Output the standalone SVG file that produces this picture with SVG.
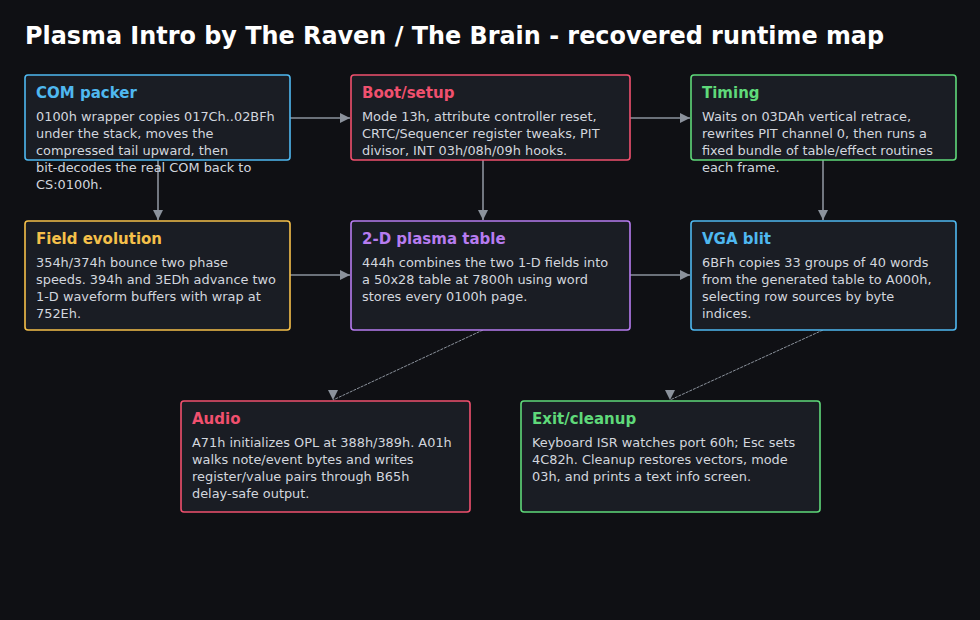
<svg xmlns="http://www.w3.org/2000/svg" width="980" height="620" viewBox="0 0 980 620">
<defs>
<style>
.bg{fill:#0f1014}
.box{fill:#1a1d24;stroke-width:1.6}
.h{font-family:"DejaVu Sans",sans-serif;font-weight:bold;font-size:15px}
.t{font-family:"DejaVu Sans",sans-serif;font-size:12.9px;fill:#d2d6de}
.title{font-family:"DejaVu Sans",sans-serif;font-weight:bold;font-size:23.9px;fill:#ffffff}
.c{stroke:#8b929c;stroke-width:1.6;fill:none}
.d{stroke:#8b929c;stroke-width:1;fill:none;stroke-dasharray:3 1}
</style>
<marker id="a" viewBox="0 0 10 10" refX="10" refY="5" markerWidth="10" markerHeight="10" markerUnits="userSpaceOnUse" orient="auto">
<path d="M0,0 L10,5 L0,10 Z" fill="#8b929c"/>
</marker>
<marker id="ad" viewBox="0 0 10 10" refX="10" refY="5" markerWidth="10" markerHeight="10" markerUnits="userSpaceOnUse" orient="90">
<path d="M0,0 L10,5 L0,10 Z" fill="#8b929c"/>
</marker>
</defs>
<rect class="bg" x="0" y="0" width="980" height="620"/>
<text class="title" x="25" y="44">Plasma Intro by The Raven / The Brain - recovered runtime map</text>

<g id="connectors">
<line class="c" x1="290" y1="118" x2="350" y2="118" marker-end="url(#a)"/>
<line class="c" x1="630" y1="118" x2="690" y2="118" marker-end="url(#a)"/>
<line class="c" x1="158" y1="160" x2="158" y2="220" marker-end="url(#a)"/>
<line class="c" x1="483" y1="160" x2="483" y2="220" marker-end="url(#a)"/>
<line class="c" x1="823" y1="160" x2="823" y2="220" marker-end="url(#a)"/>
<line class="c" x1="290" y1="275" x2="350" y2="275" marker-end="url(#a)"/>
<line class="c" x1="630" y1="275" x2="690" y2="275" marker-end="url(#a)"/>
<line class="d" x1="483" y1="330" x2="333" y2="400" marker-end="url(#ad)"/>
<line class="d" x1="823" y1="330" x2="670" y2="400" marker-end="url(#ad)"/>
</g>

<g id="com-packer">
<rect class="box" x="25" y="75" width="265" height="85" rx="3" stroke="#4fb8f0"/>
<text class="h" x="36" y="98" fill="#4fb8f0">COM packer</text>
<text class="t" x="36" y="121">0100h wrapper copies 017Ch..02BFh</text>
<text class="t" x="36" y="138">under the stack, moves the</text>
<text class="t" x="36" y="155">compressed tail upward, then</text>
<text class="t" x="36" y="172">bit-decodes the real COM back to</text>
<text class="t" x="36" y="189">CS:0100h.</text>
</g>

<g id="boot-setup">
<rect class="box" x="351" y="75" width="279" height="85" rx="3" stroke="#f0506e"/>
<text class="h" x="362" y="98" fill="#f0506e">Boot/setup</text>
<text class="t" x="362" y="121">Mode 13h, attribute controller reset,</text>
<text class="t" x="362" y="138">CRTC/Sequencer register tweaks, PIT</text>
<text class="t" x="362" y="155">divisor, INT 03h/08h/09h hooks.</text>
</g>

<g id="timing">
<rect class="box" x="691" y="75" width="265" height="85" rx="3" stroke="#5fd97a"/>
<text class="h" x="702" y="98" fill="#5fd97a">Timing</text>
<text class="t" x="702" y="121">Waits on 03DAh vertical retrace,</text>
<text class="t" x="702" y="138">rewrites PIT channel 0, then runs a</text>
<text class="t" x="702" y="155">fixed bundle of table/effect routines</text>
<text class="t" x="702" y="172">each frame.</text>
</g>

<g id="field-evolution">
<rect class="box" x="25" y="221" width="265" height="109" rx="3" stroke="#f5c04a"/>
<text class="h" x="36" y="244" fill="#f5c04a">Field evolution</text>
<text class="t" x="36" y="267">354h/374h bounce two phase</text>
<text class="t" x="36" y="284">speeds. 394h and 3EDh advance two</text>
<text class="t" x="36" y="301">1-D waveform buffers with wrap at</text>
<text class="t" x="36" y="318">752Eh.</text>
</g>

<g id="plasma-table">
<rect class="box" x="351" y="221" width="279" height="109" rx="3" stroke="#b77cf0"/>
<text class="h" x="362" y="244" fill="#b77cf0">2-D plasma table</text>
<text class="t" x="362" y="267">444h combines the two 1-D fields into</text>
<text class="t" x="362" y="284">a 50x28 table at 7800h using word</text>
<text class="t" x="362" y="301">stores every 0100h page.</text>
</g>

<g id="vga-blit">
<rect class="box" x="691" y="221" width="265" height="109" rx="3" stroke="#4fb8f0"/>
<text class="h" x="702" y="244" fill="#4fb8f0">VGA blit</text>
<text class="t" x="702" y="267">6BFh copies 33 groups of 40 words</text>
<text class="t" x="702" y="284">from the generated table to A000h,</text>
<text class="t" x="702" y="301">selecting row sources by byte</text>
<text class="t" x="702" y="318">indices.</text>
</g>

<g id="audio">
<rect class="box" x="181" y="401" width="289" height="111" rx="3" stroke="#f0506e"/>
<text class="h" x="192" y="424" fill="#f0506e">Audio</text>
<text class="t" x="192" y="447">A71h initializes OPL at 388h/389h. A01h</text>
<text class="t" x="192" y="464">walks note/event bytes and writes</text>
<text class="t" x="192" y="481">register/value pairs through B65h</text>
<text class="t" x="192" y="498">delay-safe output.</text>
</g>

<g id="exit-cleanup">
<rect class="box" x="521" y="401" width="299" height="111" rx="3" stroke="#5fd97a"/>
<text class="h" x="532" y="424" fill="#5fd97a">Exit/cleanup</text>
<text class="t" x="532" y="447">Keyboard ISR watches port 60h; Esc sets</text>
<text class="t" x="532" y="464">4C82h. Cleanup restores vectors, mode</text>
<text class="t" x="532" y="481">03h, and prints a text info screen.</text>
</g>
</svg>
